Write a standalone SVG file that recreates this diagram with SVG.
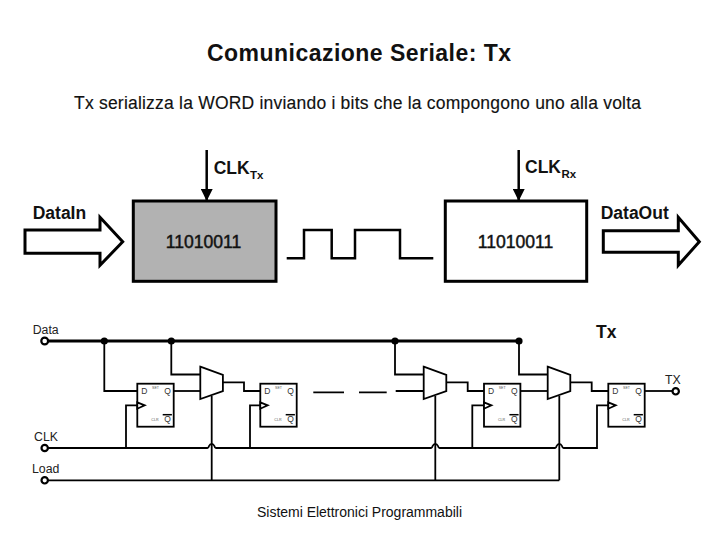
<svg xmlns="http://www.w3.org/2000/svg" width="720" height="540" viewBox="0 0 720 540">
<style>
text{font-family:"Liberation Sans",Arial,sans-serif;fill:#111}
.title{font-size:23px;font-weight:bold}
.sub{font-size:17.5px;stroke:#111;stroke-width:.15px}
.foot{font-size:14px}
.b{font-weight:bold;font-size:17.5px}
.s{font-weight:bold;font-size:11.5px}
.num{font-size:17.6px;text-anchor:middle;stroke:#111;stroke-width:.45px}
.box{stroke:#000;stroke-width:3;fill:#fff}
.arrow{stroke:#000;stroke-width:3;fill:#fff;stroke-linejoin:miter}
.w{fill:none;stroke:#000;stroke-width:1.8;stroke-linejoin:miter}
.tw{fill:none;stroke:#000;stroke-width:2.5}
.data{fill:none;stroke:#000;stroke-width:3}
.term{fill:#fff;stroke:#000;stroke-width:2.2}
.ff{fill:#fff;stroke:#000;stroke-width:1.8}
.l{font-size:12.3px;fill:#222}
.p{font-size:8.5px;fill:#333}
.t{font-size:3.6px;fill:#555}
</style>
<defs>
<marker id="head" markerUnits="userSpaceOnUse" markerWidth="12" markerHeight="12" refX="12" refY="6" orient="auto"><path d="M0 0L12 6L0 12Z" fill="#000"/></marker>
<g id="ffShape">
<rect class="ff" x="0" y="0" width="36.4" height="43"/>
<path class="ff" d="M0 18.6L7.4 21.6L0 25Z"/>
<text class="p" x="4" y="10">D</text>
<text class="p" x="27" y="10">Q</text>
<text class="t" x="14.7" y="5">SET</text>
<text class="t" x="14" y="37.7">CLR</text>
<text class="p" x="27" y="38.5">Q</text>
<path d="M25.4 31H34.6" stroke="#000" stroke-width="1.5"/>
</g>
<path id="muxShape" class="ff" d="M0 0L22.6 8.3V24.3L0 32.3Z"/>
</defs>

<g id="heading">
<text class="title" x="207" y="60.5" textLength="304" lengthAdjust="spacing">Comunicazione Seriale: Tx</text>
<text class="sub" x="74" y="109" textLength="567" lengthAdjust="spacing">Tx serializza la WORD inviando i bits che la compongono uno alla volta</text>
</g>

<g id="connectors">
<path class="tw" d="M206.7 150V201" marker-end="url(#head)"/>
<path class="tw" d="M518.7 150V201" marker-end="url(#head)"/>
<path class="tw" d="M286.7 258.3H304V230H331.7V258.3H355V230H400V258.3H433.3"/>
<path class="data" d="M44.7 341H519"/>
<path class="w" d="M104.3 341V391H137.3"/>
<path class="w" d="M171.3 341V374.5H200.3"/>
<path class="w" d="M395 341V374.5H423.7"/>
<path class="w" d="M519 341V374.5H547.7"/>
<path class="w" d="M173.7 391H200.3"/>
<path class="w" d="M222.9 382.3H244V391H260.3"/>
<path class="w" d="M313.3 392.3H344M359 392.3H386.7M395.7 391H423.7"/>
<path class="w" d="M446.3 382.3H467.7V391H484"/>
<path class="w" d="M520.4 391H547.7"/>
<path class="w" d="M570.3 382.3H591.7V391H608.3"/>
<path class="w" d="M644.7 391H675.7"/>
<path class="w" d="M44.7 448H207.5Q208.5 448 209 446Q210 443.8 211.7 443.8Q213.4 443.8 214.4 446Q214.9 448 215.9 448H431.1Q432.1 448 432.6 446Q433.6 443.8 435.3 443.8Q437 443.8 438 446Q438.5 448 439.5 448H555.1Q556.1 448 556.6 446Q557.6 443.8 559.3 443.8Q561 443.8 562 446Q562.5 448 563.5 448H597V405.3H608.3"/>
<path class="w" d="M126 448V405.3H137.3"/>
<path class="w" d="M250 448V405.3H260.3"/>
<path class="w" d="M472.3 448V405.3H484"/>
<path class="w" d="M44.7 480.3H559.3"/>
<path class="w" d="M211.7 396V480.3"/>
<path class="w" d="M435.3 396V480.3"/>
<path class="w" d="M559.3 396V480.3"/>
<circle cx="104.3" cy="341" r="3.6"/>
<circle cx="171.3" cy="341" r="3.6"/>
<circle cx="395" cy="341" r="3.6"/>
<circle cx="519" cy="341" r="3.6"/>
</g>

<g id="dataIn">
<path class="arrow" d="M25 230H100V217.3L122.7 241.7L100 265.3V253.3H25Z"/>
<text class="b" x="32.7" y="218.7">DataIn</text>
</g>
<g id="txBlock">
<rect class="box" x="133.3" y="201" width="142.7" height="80.3" style="fill:#b2b2b2"/>
<text class="num" x="203.5" y="247.7">11010011</text>
</g>
<g id="clkTx"><text class="b" x="213.7" y="174.3">CLK</text><text class="s" x="250" y="179">Tx</text></g>
<g id="rxBlock">
<rect class="box" x="445.3" y="201" width="141.4" height="80.3"/>
<text class="num" x="515.5" y="247.7">11010011</text>
</g>
<g id="clkRx"><text class="b" x="525" y="173.3">CLK</text><text class="s" x="561.5" y="178">Rx</text></g>
<g id="dataOut">
<path class="arrow" d="M603.3 230.7H678.3V217.3L699.3 241.7L678.3 265.3V252.3H603.3Z"/>
<text class="b" x="600.7" y="218.7">DataOut</text>
</g>

<g id="ff1"><use href="#ffShape" x="137.3" y="383.7"/></g>
<g id="ff2"><use href="#ffShape" x="260.3" y="383.7"/></g>
<g id="ff3"><use href="#ffShape" x="484" y="383.7"/></g>
<g id="ff4"><use href="#ffShape" x="608.3" y="383.7"/></g>
<g id="mux1"><use href="#muxShape" x="200.3" y="366.7"/></g>
<g id="mux2"><use href="#muxShape" x="423.7" y="366.7"/></g>
<g id="mux3"><use href="#muxShape" x="547.7" y="366.7"/></g>

<g id="termData"><circle class="term" cx="44.7" cy="341" r="3.4"/><text class="l" x="32.7" y="333.7">Data</text></g>
<g id="termClk"><circle class="term" cx="44.7" cy="448" r="3.2"/><text class="l" x="34" y="441">CLK</text></g>
<g id="termLoad"><circle class="term" cx="44.7" cy="480.3" r="3.2"/><text class="l" x="32" y="473.3">Load</text></g>
<g id="termTx"><circle class="term" cx="675.7" cy="391.3" r="3.2"/><text class="l" x="665" y="384">TX</text></g>
<g id="txLabel"><text class="b" x="596" y="338">Tx</text></g>
<g id="footer"><text class="foot" x="257" y="517" textLength="205" lengthAdjust="spacing">Sistemi Elettronici Programmabili</text></g>
</svg>
